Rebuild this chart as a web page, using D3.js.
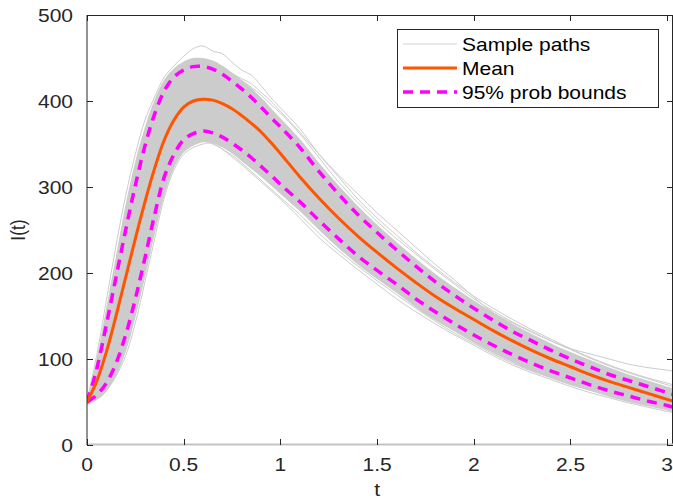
<!DOCTYPE html>
<html><head><meta charset="utf-8">
<script src="https://cdn.jsdelivr.net/npm/d3@7"></script>
<style>body{margin:0;background:#fff}svg{display:block}text{font-family:"Liberation Sans",Arial,sans-serif}</style>
</head><body><svg id="c" width="673" height="499"></svg>
<script>
const tVals = [0,0.05,0.1,0.15,0.2,0.25,0.3,0.35,0.4,0.45,0.5,0.55,0.6,0.65,0.7,0.75,0.8,0.85,0.9,0.95,1.0,
  1.1,1.2,1.3,1.4,1.5,1.6,1.7,1.8,1.9,2.0,2.1,2.2,2.3,2.4,2.5,2.6,2.7,2.8,2.9,3.0,3.03];
const meanVals = [50,74,108,150,195,240,283,322,355,378,393,400,402,401,397,391,383,374,364,352,339,
  312,287,264,243,224,206,189,173,159,146,133,121,110,100,91,82,74,67,60,53,51];
const upperVals = [50,88,140,195,250,302,348,385,412,428,436,440,440,437,431,423,414,404,393,381,370,
  346,318,292,268,247,227,208,190,174,159,145,132,121,110,100,91,82,75,68,61,59];
const lowerVals = [50,58,72,95,128,170,218,268,312,338,355,362,365,363,358,351,343,334,324,314,303,
  283,261,240,220,203,187,170,155,141,128,116,105,95,86,78,70,63,57,51,46,44];
const bandTop = [51,100,160,220,280,330,370,402,425,438,446,450,450,447,441,433,424,415,404,392,380,
  356,328,302,278,256,236,217,199,183,168,154,141,129,118,108,99,90,82,75,68,66];
const bandBottom = [47,52,62,80,108,148,195,245,290,322,340,348,352,351,346,339,330,321,312,302,292,
  272,250,229,210,193,177,160,145,132,119,107,96,86,78,70,63,56,50,45,40,38];
const samplePaths = [
  [52,104,168,232,290,338,378,405,428,441,452,461,464,458,455,445,436,430,418,404,392,368,338,312,286,264,244,224,206,189,173,159,146,134,123,112,102,93,85,78,72,70],
  [47,54,64,80,104,142,190,240,288,320,338,346,350,351,344,335,326,316,306,296,286,264,241,222,204,187,170,155,141,128,116,104,93,84,76,68,61,55,49,44,39,38],
  [50,95,150,210,265,318,360,396,420,432,440,446,448,444,440,432,426,420,410,400,388,364,338,314,292,270,250,230,210,192,172,154,142,131,121,112,106,100,94,90,87,86],
  [50,90,140,195,250,300,345,385,412,428,436,442,445,441,436,430,424,416,407,396,386,362,334,306,282,260,240,222,204,187,170,156,143,132,121,111,101,92,84,77,70,68],
  [48,60,74,92,120,162,208,256,300,328,342,349,353,350,344,337,328,318,308,298,288,268,246,226,208,191,175,159,144,130,118,106,95,86,78,70,64,58,52,47,42,41]
];
const xTicks = [0,0.5,1,1.5,2,2.5,3];
const yTicks = [0,100,200,300,400,500];
const legendLabels = ["Sample paths","Mean","95% prob bounds"];

const svg = d3.select("#c");
const L = 87, R = 673, T = 15, B = 445;
const x = d3.scaleLinear().domain([0,3.03]).range([L,R]);
const y = d3.scaleLinear().domain([0,500]).range([B,T]);
const ink = "#262626";
const gray = "#cccccc";
const SX = 1.2; // horizontal stretch of glyphs seen in the reference

function txt(parent, px, py, str, anchor) {
  return parent.append("text")
    .attr("transform", `translate(${px},${py}) scale(${SX},1)`)
    .attr("text-anchor", anchor).attr("font-size", 17.5).attr("fill", ink).text(str);
}

svg.append("defs").append("clipPath").attr("id","clip")
  .append("rect").attr("x",L).attr("y",T).attr("width",R-L).attr("height",B-T);
const plot = svg.append("g").attr("clip-path","url(#clip)");

const idx = d3.range(tVals.length);
const area = d3.area().x(i=>x(tVals[i])).y0(i=>y(bandBottom[i])).y1(i=>y(bandTop[i])).curve(d3.curveCatmullRom);
plot.append("path").attr("d",area(idx)).attr("fill",gray);

samplePaths.forEach(p=>{
  const ln = d3.line().x(i=>x(tVals[i])).y(i=>y(p[i])).curve(d3.curveCatmullRom);
  plot.append("path").attr("d",ln(idx)).attr("fill","none").attr("stroke",gray).attr("stroke-width",1);
});

const lineOf = arr => d3.line().x(i=>x(tVals[i])).y(i=>y(arr[i])).curve(d3.curveCatmullRom)(idx);
[upperVals,lowerVals].forEach(a=>{
  plot.append("path").attr("d",lineOf(a)).attr("fill","none").attr("stroke","#ff00ff")
    .attr("stroke-width",3.5).attr("stroke-dasharray","10,7");
});
plot.append("path").attr("d",lineOf(meanVals)).attr("fill","none").attr("stroke","#ff5400").attr("stroke-width",3);

// axes box
const tl = 6;
svg.append("line").attr("x1",L).attr("x2",L).attr("y1",T).attr("y2",B).attr("stroke",ink).attr("stroke-width",1);
svg.append("line").attr("x1",L).attr("x2",R).attr("y1",T+0.5).attr("y2",T+0.5).attr("stroke",ink).attr("stroke-width",1);
svg.append("line").attr("x1",R-0.5).attr("x2",R-0.5).attr("y1",T).attr("y2",B).attr("stroke",ink).attr("stroke-width",1);
svg.append("line").attr("x1",L).attr("x2",R).attr("y1",B-0.5).attr("y2",B-0.5).attr("stroke","#c4c4c4").attr("stroke-width",2);

const g = svg.append("g");
xTicks.forEach(v=>{
  const px = Math.round(x(v))+0.5;
  g.append("line").attr("x1",px).attr("x2",px).attr("y1",B).attr("y2",B-tl).attr("stroke",ink);
  g.append("line").attr("x1",px).attr("x2",px).attr("y1",T).attr("y2",T+tl).attr("stroke",ink);
  txt(g, x(v), 471, v, "middle");
});
yTicks.forEach(v=>{
  const py = Math.round(y(v))+0.5;
  g.append("line").attr("x1",L).attr("x2",L+tl).attr("y1",py).attr("y2",py).attr("stroke",ink);
  g.append("line").attr("x1",R).attr("x2",R-tl).attr("y1",py).attr("y2",py).attr("stroke",ink);
  txt(g, 73, y(v)+6.5, v, "end");
});
txt(svg, x(1.5), 496, "t", "middle");
svg.append("text").attr("transform","translate(25,230) scale(1.2,1) rotate(-90)")
  .attr("text-anchor","middle").attr("font-size",17.5).attr("fill",ink).text("I(t)");

// legend
const lg = svg.append("g");
lg.append("rect").attr("x",397.5).attr("y",29.5).attr("width",261).attr("height",78).attr("fill","#fff").attr("stroke",ink);
const styles = [{c:"#d0d0d0",w:1,d:null},{c:"#ff5400",w:3,d:null},{c:"#ff00ff",w:3.5,d:"10,7"}];
legendLabels.forEach((lab,i)=>{
  const cy = 44 + i*24;
  const s = styles[i];
  const l = lg.append("line").attr("x1",403).attr("x2",457).attr("y1",cy).attr("y2",cy).attr("stroke",s.c).attr("stroke-width",s.w);
  if (s.d) l.attr("stroke-dasharray",s.d);
  txt(lg, 462, cy+6.5, lab, "start").attr("fill","#000");
});
</script></body></html>
